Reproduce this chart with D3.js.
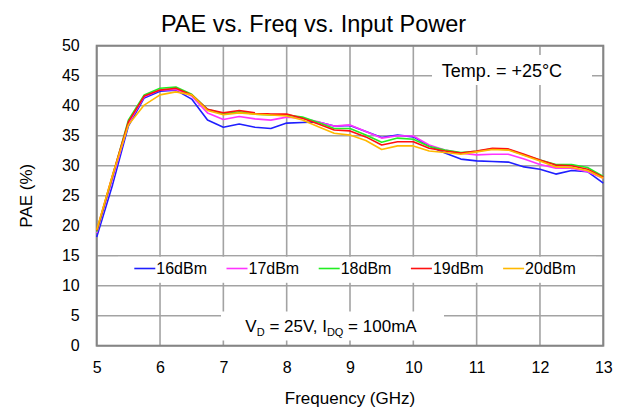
<!DOCTYPE html>
<html><head><meta charset="utf-8">
<script src="https://cdn.jsdelivr.net/npm/d3@7"></script>
<style>
html,body{margin:0;padding:0;background:#fff;}
svg{display:block;font-family:"Liberation Sans",Arial,sans-serif;}
</style></head>
<body>
<svg id="chart" width="627" height="415"></svg>
<script>
const freq = [5,5.25,5.5,5.75,6,6.25,6.5,6.75,7,7.25,7.5,7.75,8,8.25,8.5,8.75,9,9.25,9.5,9.75,10,10.25,10.5,10.75,11,11.25,11.5,11.75,12,12.25,12.5,12.75,13];
const p16 = [18.1,26.8,36.6,41.3,42.4,42.6,41.1,37.6,36.4,36.95,36.4,36.2,37.1,37.2,37.3,36.6,36.7,35.7,34.7,35.1,34.8,33.3,32.1,31.1,30.8,30.7,30.6,29.8,29.4,28.6,29.2,29.0,27.1];
const p17 = [18.8,27.8,37.0,41.5,42.6,42.7,41.6,38.8,37.7,38.2,37.8,37.6,38.1,37.9,37.3,36.6,36.8,35.7,34.6,35.0,34.95,33.45,32.6,32.1,31.8,31.9,31.9,31.1,30.2,29.6,29.6,29.0,27.9];
const p18 = [19.0,28.2,37.6,41.8,42.9,43.1,41.9,39.4,38.6,39.0,38.6,38.45,38.45,38.1,37.2,36.2,36.2,35.1,33.9,34.6,34.4,33.2,32.6,32.2,32.4,32.8,32.7,31.8,30.95,30.2,30.2,29.7,28.2];
const p19 = [19.2,28.4,37.3,41.6,42.6,42.9,41.8,39.4,38.8,39.2,38.8,38.6,38.6,37.9,36.95,35.95,35.8,34.8,33.45,34.0,34.0,32.9,32.45,32.1,32.45,32.9,32.8,31.9,30.95,30.1,30.0,29.4,28.1];
const p20 = [19.3,28.4,36.8,40.1,41.8,42.3,41.8,39.2,38.5,38.8,38.6,38.45,38.3,37.6,36.5,35.4,35.1,34.2,32.7,33.3,33.3,32.45,32.2,31.9,32.3,32.7,32.6,31.7,30.8,29.8,29.7,29.2,27.9];
const seriesNames = ["16dBm","17dBm","18dBm","19dBm","20dBm"];
const seriesColors = ["#1f1fff","#ff33ff","#22ee22","#ff1010","#ffb800"];
const seriesValues = [p16,p17,p18,p19,p20];
const xTicks = [5,6,7,8,9,10,11,12,13];
const yTicks = [0,5,10,15,20,25,30,35,40,45,50];

const svg = d3.select("#chart");
const L = 96.7, T = 45.7, W = 506.6, H = 300;
const x = d3.scaleLinear().domain([5,13]).range([L, L+W]);
const y = d3.scaleLinear().domain([0,50]).range([T+H, T]);

// grid
const g = svg.append("g");
g.selectAll(".gx").data(xTicks).join("line")
  .attr("x1",d=>x(d)).attr("x2",d=>x(d)).attr("y1",T).attr("y2",T+H)
  .attr("stroke","#a3a3a3").attr("stroke-width",1.6);
g.selectAll(".gy").data(yTicks).join("line")
  .attr("x1",L).attr("x2",L+W).attr("y1",d=>y(d)).attr("y2",d=>y(d))
  .attr("stroke","#a3a3a3").attr("stroke-width",1.6);

// annotation/legend white boxes
svg.append("rect").attr("x",432).attr("y",55).attr("width",160).attr("height",30).attr("fill","#fff");
svg.append("rect").attr("x",118).attr("y",256.8).attr("width",478).attr("height",26).attr("fill","#fff");
svg.append("rect").attr("x",221).attr("y",311.5).attr("width",223).attr("height",29).attr("fill","#fff");

// border
svg.append("rect").attr("x",L).attr("y",T).attr("width",W).attr("height",H)
  .attr("fill","none").attr("stroke","#858585").attr("stroke-width",2);

// lines
const line = d3.line().x((d,i)=>x(freq[i])).y(d=>y(d));
seriesValues.forEach((vals,k)=>{
  svg.append("path").datum(vals).attr("d",line)
    .attr("fill","none").attr("stroke",seriesColors[k]).attr("stroke-width",1.6)
    .attr("stroke-linejoin","round");
});

// axes labels
const yAxis = d3.axisLeft(y).tickValues(yTicks).tickSize(0).tickPadding(17);
const ya = svg.append("g").attr("transform",`translate(${L},0)`).call(yAxis);
ya.select(".domain").remove();
ya.selectAll("text").attr("font-size",16).attr("fill","#000").attr("font-family","Liberation Sans, Arial, sans-serif");
const xAxis = d3.axisBottom(x).tickValues(xTicks).tickSize(0).tickPadding(16).tickFormat(d3.format("d"));
const xa = svg.append("g").attr("transform",`translate(0,${T+H})`).call(xAxis);
xa.select(".domain").remove();
xa.selectAll("text").attr("font-size",16).attr("fill","#000").attr("font-family","Liberation Sans, Arial, sans-serif");

// titles
svg.append("text").attr("x",313.5).attr("y",32).attr("text-anchor","middle")
  .attr("font-size",23.5).text("PAE vs. Freq vs. Input Power");
svg.append("text").attr("x",L+W/2).attr("y",404).attr("text-anchor","middle")
  .attr("font-size",17).text("Frequency (GHz)");
svg.append("text").attr("transform",`translate(32,${T+H/2}) rotate(-90)`).attr("text-anchor","middle")
  .attr("font-size",17).text("PAE (%)");

// temp annotation
svg.append("text").attr("x",502).attr("y",76.5).attr("text-anchor","middle")
  .attr("font-size",18).text("Temp. = +25°C");

// VD annotation
const vd = svg.append("text").attr("x",331).attr("y",332).attr("text-anchor","middle").attr("font-size",17);
vd.append("tspan").text("V");
vd.append("tspan").attr("font-size",11).attr("dy",4).text("D");
vd.append("tspan").attr("dy",-4).text(" = 25V, I");
vd.append("tspan").attr("font-size",11).attr("dy",4).text("DQ");
vd.append("tspan").attr("dy",-4).text(" = 100mA");

// legend
const lg = svg.append("g");
seriesNames.forEach((n,k)=>{
  const lx = 134.3 + k*92.2;
  lg.append("line").attr("x1",lx).attr("x2",lx+21).attr("y1",268.5).attr("y2",268.5)
    .attr("stroke",seriesColors[k]).attr("stroke-width",1.6);
  lg.append("text").attr("x",lx+22).attr("y",274.3).attr("font-size",16).text(n);
});
</script>
</body></html>
